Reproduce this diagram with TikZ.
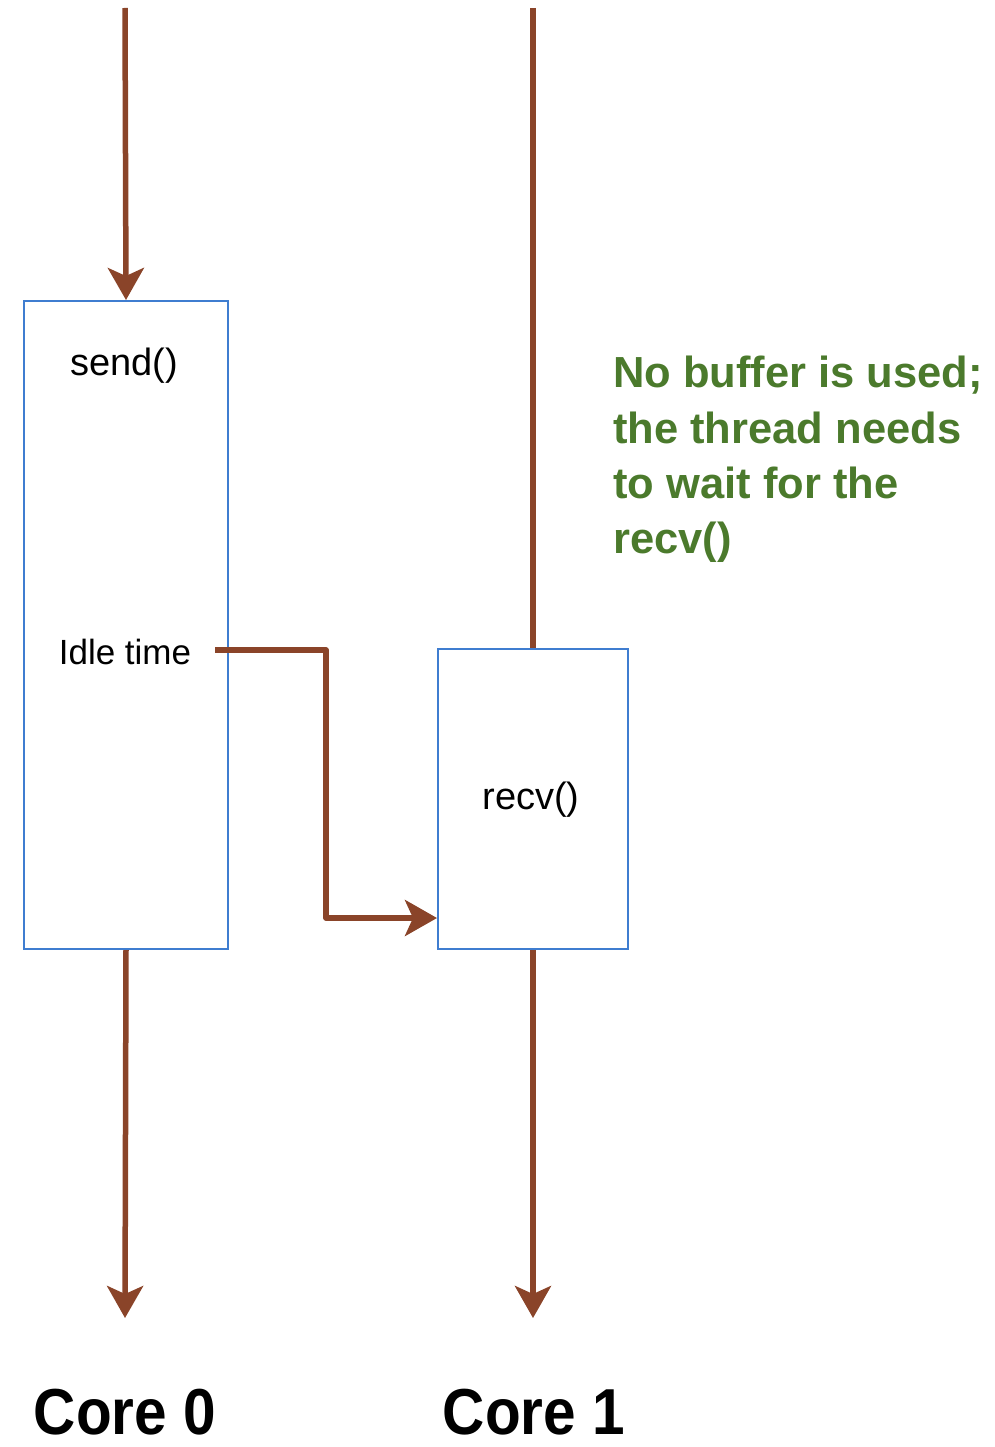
\documentclass[tikz,border=0pt]{standalone}
\usepackage{fontspec}
\setmainfont{Liberation Sans}
\newfontfamily\corefont[FakeStretch=0.9]{Liberation Sans}
\usetikzlibrary{arrows.meta}
\definecolor{flow}{HTML}{8A4429}
\definecolor{frame}{HTML}{3F7DD0}
\definecolor{note}{HTML}{4B7A2C}
\tikzset{
  flowline/.style={draw=flow, line width=5.5pt},
  tip/.style={-{Stealth[length=32pt,width=36pt,inset=8pt]}},
  task/.style={draw=frame, line width=2pt, fill=white, inner sep=0pt},
  label/.style={font=\fontsize{38}{44}\selectfont, inner sep=0pt},
  corelabel/.style={font=\corefont\bfseries\fontsize{65}{70}\selectfont, inner sep=0pt, anchor=base},
}
\begin{document}
\begin{tikzpicture}[x=1pt,y=-1pt]
\useasboundingbox (0,0) rectangle (994,1447);
% task boxes
\node[task, minimum width=204pt, minimum height=648pt, anchor=north west] (sendbox) at (23,300) {};
\node[task, minimum width=190pt, minimum height=300pt, anchor=north west] (recvbox) at (437,648) {};
% top and bottom ends of the timelines
\coordinate (top0) at (125,8);
\coordinate (top1) at (533,8);
\coordinate (end0) at (125,1318);
\coordinate (end1) at (533,1318);
% timelines
\draw[flowline, tip] (top0) -- (sendbox.north);
\draw[flowline] (top1) -- (recvbox.north);
\draw[flowline, tip] (sendbox.south) -- (end0);
\draw[flowline, tip] (recvbox.south) -- (end1);
% labels inside the boxes
\node[label] (send) at (124,366) {send()};
\node[label, font=\fontsize{35}{42}\selectfont] (idle) at (125,652) {Idle time};
\node[label] (recv) at (531,800) {recv()};
% message from the idle sender to the receiver
\coordinate (idlestart) at (215,650);
\draw[flowline, tip, line join=round] (idlestart) -| (326,918) -- (recvbox.west |- 0,918);
% note
\node[anchor=north west, align=left, text=note, inner sep=0pt,
      font=\bfseries\fontsize{43.5}{55.3}\selectfont] (remark) at (613,356)
  {No buffer is used;\\the thread needs\\to wait for the\\recv()};
% core names
\node[corelabel] (core0) at (125,1434) {Core 0};
\node[corelabel] (core1) at (534,1434) {Core 1};
\end{tikzpicture}
\end{document}
